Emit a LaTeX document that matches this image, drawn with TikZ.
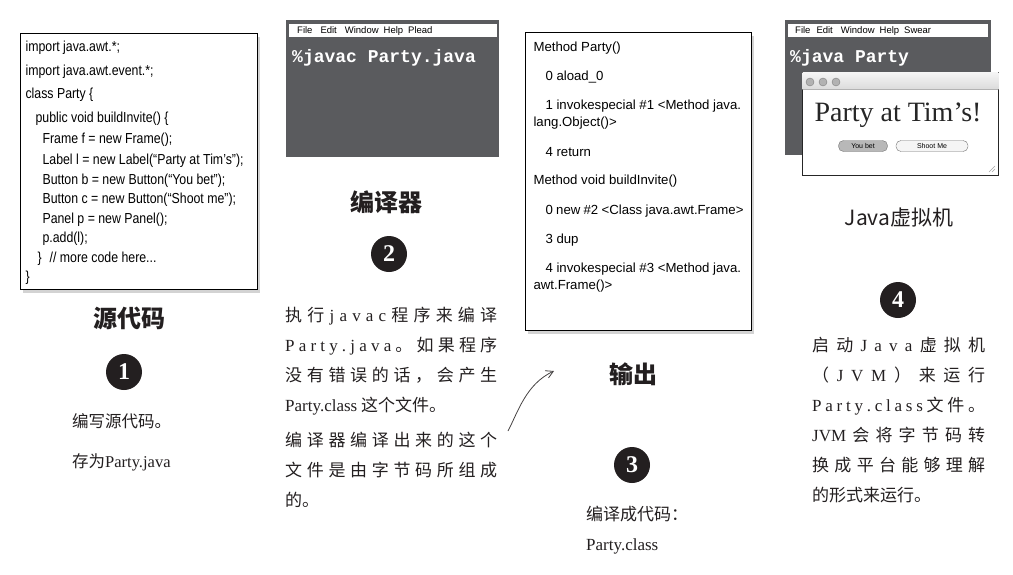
\documentclass[tikz,border=0pt]{standalone}
\usepackage{fontspec}
\setmainfont{Liberation Serif}
\newfontfamily\cjk{Noto Sans CJK SC}
\newfontfamily\codefont[FakeStretch=0.85]{Liberation Sans}
\newfontfamily\bytefont{Liberation Sans}
\newfontfamily\menufont{Liberation Sans}
\newfontfamily\termfont{Liberation Mono}
\usetikzlibrary{arrows.meta,shadows}

\definecolor{termgray}{RGB}{90,91,94}
\definecolor{inkgray}{RGB}{35,31,32}

% letter spacing between CJK characters
\newXeTeXintercharclass\cjkclass
\newcount\cjkc
\newcommand\setcjkrange[2]{\cjkc=#1\relax
  \loop\XeTeXcharclass\cjkc=\cjkclass\relax
  \ifnum\cjkc<#2\relax\advance\cjkc by 1\relax\repeat}
\setcjkrange{"3000}{"303F}
\setcjkrange{"4E00}{"9FFF}
\setcjkrange{"FF00}{"FFEF}
\XeTeXinterchartoks\cjkclass\cjkclass={\hfil}
\newcommand\spreadon{\XeTeXinterchartokenstate=1\relax}
\newcommand\jl[2]{\leavevmode\hbox to #1{#2}}
\newcommand\nl[1]{\leavevmode\hbox{#1}}
\newcommand\lt[1]{{\rmfamily #1}}
\makeatletter
\newcommand\lsp[1]{{\rmfamily\let\lsp@sep\relax
  \@tfor\lsp@c:=#1\do{\lsp@sep\lsp@c\let\lsp@sep\hfil}}}
\makeatother

\begin{document}
\begin{tikzpicture}[x=1pt, y=-1pt,
  codebox/.style={draw=black, line width=1.1pt, fill=white, anchor=north west,
    drop shadow={shadow xshift=2pt, shadow yshift=-3pt, opacity=0.35}},
  term/.style={fill=termgray, anchor=north west, minimum width=213pt, minimum height=137pt},
  menubar/.style={fill=white, inner sep=0pt, anchor=north west, minimum height=13pt,
    align=left, text=black, font=\menufont\fontsize{9.5}{10}\selectfont},
  cmd/.style={text=white, anchor=west, inner sep=0pt, font=\termfont\bfseries\fontsize{18}{18}\selectfont},
  head/.style={text=inkgray, font=\cjk\bfseries\fontsize{24}{24}\selectfont},
  num/.style={circle, fill=inkgray, text=white, minimum size=36pt, inner sep=0pt,
    font=\bfseries\fontsize{24}{24}\selectfont},
  para/.style={anchor=north west, inner sep=0pt, align=left, text=inkgray,
    font=\cjk\fontsize{17}{30}\selectfont\spreadon},
  dot/.style={circle, fill=black!30, draw=black!50, minimum size=8pt, inner sep=0pt},
  pill/.style={draw=black!55, rounded corners=5pt, minimum height=11pt, inner sep=0pt,
    font=\menufont\fontsize{7}{7}\selectfont},
  arrow/.style={-{Straight Barb[length=2.5mm, width=2.8mm]}, line width=0.8pt, draw=inkgray!85}
]
\useasboundingbox (0,0) rectangle (1013,574);

% step 1: source
\node[codebox, inner xsep=5pt, inner ysep=6.5pt] (source) at (20,33) {\parbox[c][243pt][t]{227pt}{%
  \raggedright\codefont\fontsize{14.5}{19.5}\selectfont
  \vspace*{1pt}%
  import java.awt.*;\\[4pt]
  import java.awt.event.*;\\[4pt]
  class Party \{\\[4pt]
  \hspace*{10pt}public void buildInvite() \{\\[1.5pt]
  \hspace*{17pt}Frame f = new Frame();\\[1.5pt]
  \hspace*{17pt}Label l = new Label(“Party at Tim’s”);\\[0.5pt]
  \hspace*{17pt}Button b = new Button(“You bet”);\\
  \hspace*{17pt}Button c = new Button(“Shoot me”);\\
  \hspace*{17pt}Panel p = new Panel();\\
  \hspace*{17pt}p.add(l);\\
  \hspace*{12pt}\}\hspace{8pt}// more code here...\\
  \}}};
\node[head] (srchead) at (129,318) {源代码};
\node[num] (stepone) at (124,372) {1};
\node[para, font=\cjk\fontsize{16.5}{40}\selectfont] (srctext) at (72,413) {%
  \nl{编写源代码。}\\
  \nl{存为\lt{Party.java}}};

% step 2: compiler
\node[term] (javacterm) at (286,20) {};
\node[menubar, text width=208pt] (javacmenu) at (289,24)
  {\hspace*{8pt}File\hspace{8pt}Edit\hspace{8pt}Window\hspace{5pt}Help\hspace{5pt}Plead};
\node[cmd] (javaccmd) at (292,58) {\%javac Party.java};
\node[head] (compilerhead) at (386,202) {编译器};
\node[num] (steptwo) at (389,254) {2};
\node[para] (compiletext) at (285,306.5) {%
  \jl{212pt}{执行\hfil\lsp{javac}\hfil 程序来编译}\\
  \jl{212pt}{\lsp{Party.java}\hfil 。如果程序}\\
  \jl{212pt}{没有错误的话，会产生}\\
  \nl{\lt{Party.class} 这个文件。}\\[5pt]
  \jl{212pt}{编译器编译出来的这个}\\
  \jl{212pt}{文件是由字节码所组成}\\
  \nl{的。}};
\coordinate (arrowtail) at (508,431);
\coordinate (arrowtip) at (554,371);
\draw[arrow] (arrowtail) .. controls (518,412) and (526,384) .. (arrowtip);

% step 3: output
\node[codebox, inner xsep=8pt, inner ysep=8pt] (bytecode) at (525,32) {\parbox[c][282pt][t]{210pt}{%
  \raggedright\bytefont\fontsize{13.2}{17}\selectfont
  \vspace*{1pt}%
  Method Party()\\[12pt]
  \hspace*{12pt}0 aload\_0\\[12pt]
  \hspace*{12pt}1 invokespecial \#1 <Method java.\\
  lang.Object()>\\[13pt]
  \hspace*{12pt}4 return\\[11pt]
  Method void buildInvite()\\[13pt]
  \hspace*{12pt}0 new \#2 <Class java.awt.Frame>\\[12pt]
  \hspace*{12pt}3 dup\\[12pt]
  \hspace*{12pt}4 invokespecial \#3 <Method java.\\
  awt.Frame()>}};
\node[head] (outhead) at (633,374) {输出};
\node[num] (stepthree) at (632,465) {3};
\node[para] (outtext) at (586,505.5) {%
  \nl{编译成代码：}\\
  \nl{\lt{Party.class}}};

% step 4: JVM
\node[term, minimum width=206pt, minimum height=135pt] (javaterm) at (785,20) {};
\node[menubar, text width=200pt] (javamenu) at (788,24)
  {\hspace*{7pt}File\hspace{6pt}Edit\hspace{8pt}Window\hspace{5pt}Help\hspace{5pt}Swear};
\node[cmd] (javacmd) at (790,58) {\%java Party};
\node[draw=black!85, line width=1pt, fill=white, anchor=north west,
  minimum width=196pt, minimum height=103pt] (appwin) at (802,72) {};
\fill[top color=black!4, bottom color=black!14] ([shift={(0.6,0.6)}]appwin.north west)
  rectangle ([shift={(-0.6,17)}]appwin.north east);
\draw[black!30] ([shift={(0.6,17)}]appwin.north west) -- ([shift={(-0.6,17)}]appwin.north east);
\node[dot] (closebtn) at (810,82) {};
\node[dot] (minbtn) at (823,82) {};
\node[dot] (zoombtn) at (836,82) {};
\node[font=\rmfamily\fontsize{28}{28}\selectfont, text=black!85] (partytitle) at (898,115) {Party at Tim’s!};
\node[pill, fill=black!28, minimum width=49pt] (youbet) at (863,146) {You bet};
\node[pill, fill=black!4, minimum width=72pt] (shootme) at (932,146) {Shoot Me};
\draw[black!35] (989,172) -- (995,166) (992,172) -- (995,169);
\node[text=inkgray, font=\cjk\fontsize{21}{21}\selectfont] (jvmhead) at (899,218) {Java虚拟机};
\node[num] (stepfour) at (898,300) {4};
\node[para] (jvmtext) at (812,336.5) {%
  \jl{173pt}{启动\hfil\lsp{Java}\hfil 虚拟机}\\
  \jl{173pt}{（\hfil\lsp{JVM}\hfil ）来运行}\\
  \jl{173pt}{\lsp{Party.class}\hfil 文件。}\\
  \jl{173pt}{\lt{JVM}\hfil 会将字节码转}\\
  \jl{173pt}{换成平台能够理解}\\
  \nl{的形式来运行。}};
\end{tikzpicture}
\end{document}
